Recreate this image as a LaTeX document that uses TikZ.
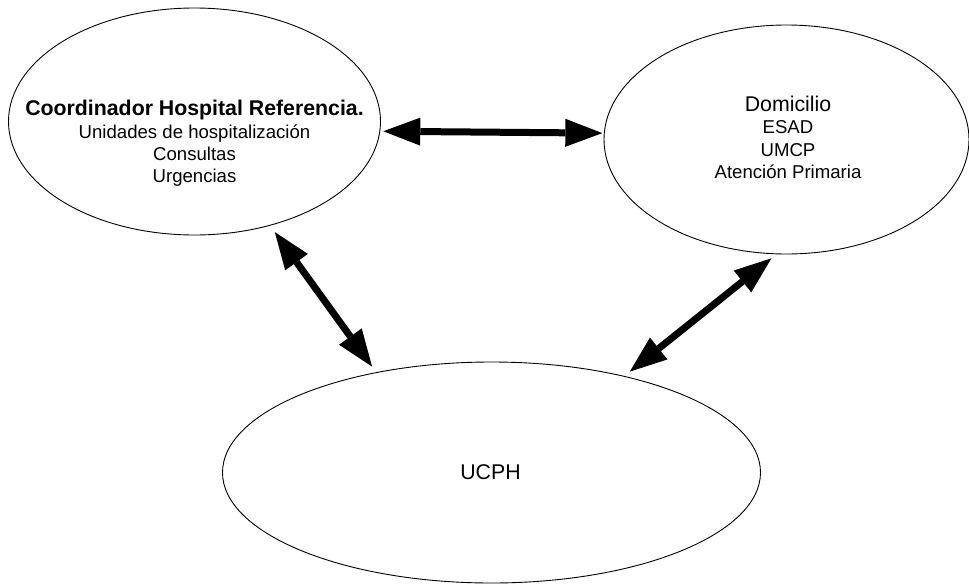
\documentclass[tikz,border=0pt]{standalone}
\usepackage{fontspec}
\setmainfont{Liberation Sans}
\usetikzlibrary{shapes,arrows.meta}
\tikzstyle{zone} = [draw, ellipse, line width=0.9pt, inner sep=0pt]
\tikzstyle{txt} = [align=center, inner sep=0pt, font=\fontsize{18.6}{22.4}\selectfont]
\tikzstyle{link} = [draw, line width=7pt, <->, >={Triangle[length=37pt, width=28pt, line width=0pt]}]
\newcommand{\bigline}{\fontsize{21.3}{22.4}\selectfont}

\begin{document}
\begin{tikzpicture}[x=1pt, y=1pt]
	\useasboundingbox (0,0) rectangle (969,-584);
	\node [zone, minimum width=372pt, minimum height=227pt] (hosp) at (194.5,-121.5) {};
	\node [zone, right of=hosp, node distance=592pt, yshift=-18pt, minimum width=365pt, minimum height=229pt] (dom) {};
	\node [zone, below of=hosp, node distance=351pt, xshift=297pt, minimum width=538pt, minimum height=221pt] (ucph) {};
	
	\node [txt, yshift=-22pt] (hosptxt) at (hosp) {{\bigline\bfseries Coordinador Hospital Referencia.}\\ Unidades de hospitalización\\ Consultas\\ Urgencias};
	\node [txt, xshift=1.5pt, yshift=2pt] (domtxt) at (dom) {{\bigline Domicilio}\\ ESAD\\ UMCP\\ Atención Primaria};
	\node [txt, font=\bigline, xshift=-1pt] (ucphtxt) at (ucph) {UCPH};
	
	\path [link, shorten <=3pt, shorten >=1.5pt] (hosp.-3.5) -- (dom.178);
	\path [link, shorten <=8pt, shorten >=7pt] (hosp.-54.2) -- (ucph.139.7);
	\path [link, shorten <=7pt, shorten >=6.5pt] (ucph.36) -- (dom.-95.2);
\end{tikzpicture}
\end{document}
